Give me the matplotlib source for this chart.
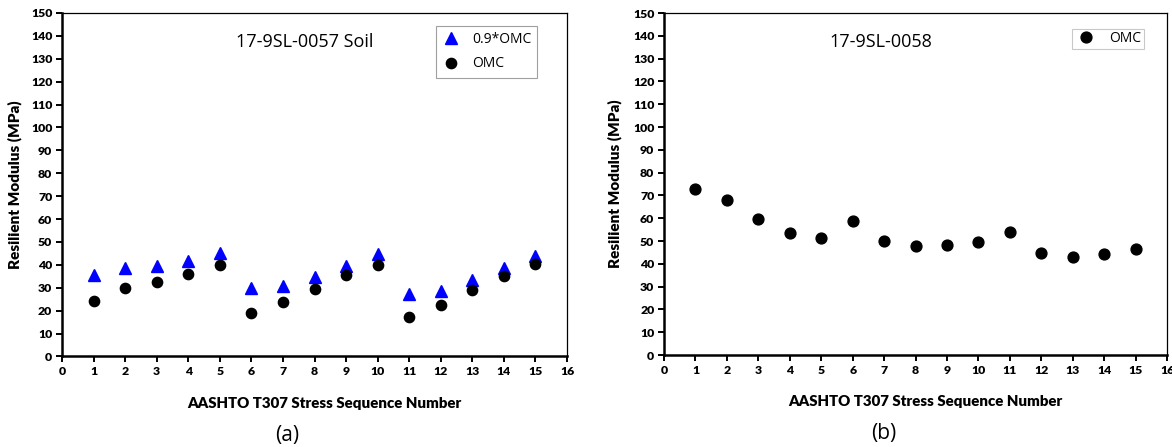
import matplotlib.pyplot as plt
import numpy as np

# stress sequence numbers
seq = np.arange(1, 16)

# (a) 17-9SL-0057 soil
soil57_09omc = [35.5, 38.5, 39.4, 41.5, 45.2, 30.0, 30.8, 34.6, 39.3, 44.6, 27.3, 28.8, 33.3, 38.7, 44.0]
soil57_omc = [24.4, 29.7, 32.6, 36.2, 40.0, 19.0, 23.6, 29.5, 35.6, 40.0, 17.2, 22.5, 29.0, 35.3, 40.5]

# (b) 17-9SL-0058
soil58_omc = [72.7, 68.0, 59.5, 53.3, 51.4, 58.9, 50.0, 47.8, 48.1, 49.5, 53.8, 44.9, 43.2, 44.2, 46.3]

lab_font = ['Lato', 'DejaVu Sans']
txt_font = ['Open Sans', 'DejaVu Sans']

fig = plt.figure(figsize=(11.72, 4.47), dpi=100)
ax1 = fig.add_axes([0.0529, 0.2025, 0.4309, 0.7685])
ax2 = fig.add_axes([0.5666, 0.2058, 0.4292, 0.7650])


def style(ax):
    ax.set_xlim(0, 16)
    ax.set_ylim(0, 150)
    ax.set_xticks(range(0, 17))
    ax.set_yticks(range(0, 151, 10))
    ax.spines['left'].set_linewidth(1.8)
    ax.spines['bottom'].set_linewidth(1.8)
    ax.spines['top'].set_linewidth(0.9)
    ax.spines['right'].set_linewidth(0.9)
    ax.tick_params(direction='out', length=4.5, width=1.4, pad=2.5, labelsize=8.8)
    for lab in ax.get_xticklabels() + ax.get_yticklabels():
        lab.set_fontweight('heavy')
        lab.set_family(lab_font)
    ax.set_xlabel('AASHTO T307 Stress Sequence Number', fontsize=10.8, fontweight='heavy',
                  family=lab_font)
    ax.xaxis.set_label_coords(0.52, -0.118)
    ax.set_ylabel('Resilient Modulus (MPa)', fontsize=11, fontweight='heavy',
                  family=lab_font)


ax1.plot(seq, soil57_09omc, '^', color='#0000ff', markersize=8.6, label='0.9*OMC')
ax1.plot(seq, soil57_omc, 'o', color='black', markersize=7.4, label='OMC')
style(ax1)
ax1.yaxis.set_label_coords(-0.08, 0.5)
ax1.text(0.48, 0.915, '17-9SL-0057 Soil', transform=ax1.transAxes, ha='center',
         va='center', fontsize=13, family=txt_font)
leg1 = ax1.legend(loc='upper right', bbox_to_anchor=(0.955, 0.982), fontsize=10,
                  frameon=True, fancybox=False, edgecolor='#888888', handletextpad=0.9,
                  borderpad=0.45, labelspacing=0.65, handlelength=1.2)
leg1.get_frame().set_linewidth(0.8)
for t in leg1.get_texts():
    t.set_family(txt_font)

ax2.plot(seq, soil58_omc, 'o', color='black', markersize=7.8, label='OMC')
style(ax2)
ax2.yaxis.set_label_coords(-0.084, 0.5)
ax2.text(0.43, 0.915, '17-9SL-0058', transform=ax2.transAxes, ha='center',
         va='center', fontsize=13, family=txt_font)
leg2 = ax2.legend(loc='upper right', bbox_to_anchor=(0.968, 0.975), fontsize=10,
                  frameon=True, fancybox=False, edgecolor='#bbbbbb', handletextpad=0.9,
                  borderpad=0.2, handlelength=1.6)
leg2.get_frame().set_linewidth(0.8)
for t in leg2.get_texts():
    t.set_family(txt_font)

fig.text(0.245, 0.026, '(a)', ha='center', va='center', fontsize=15, family=txt_font)
fig.text(0.754, 0.03, '(b)', ha='center', va='center', fontsize=15, family=txt_font)

fig.savefig('out.png', dpi=100)
